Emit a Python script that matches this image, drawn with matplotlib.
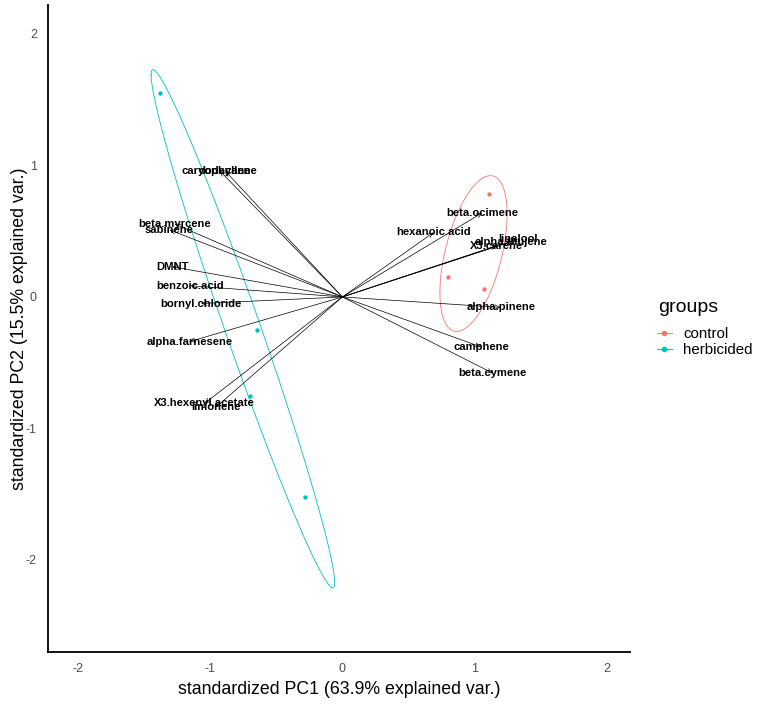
import numpy as np
import matplotlib
matplotlib.use("Agg")
import matplotlib.pyplot as plt
from matplotlib.lines import Line2D

plt.rcParams["font.family"] = ["Liberation Sans", "DejaVu Sans"]
plt.rcParams["axes.unicode_minus"] = False

# --- datos ---
grupos = ["control", "herbicided"]
colores = {"control": "#F8766D", "herbicided": "#00BFC4"}

pc1_control = [1.11, 0.80, 1.07]
pc2_control = [0.78, 0.15, 0.06]
pc1_herb = [-1.385, -0.65, -0.70, -0.28]
pc2_herb = [1.553, -0.25, -0.75, -1.52]

variables = ["beta.ocimene", "hexanoic.acid", "linalool", "alpha.thujene",
             "X3.carene", "alpha.pinene", "camphene", "beta.cymene",
             "caryophyllene", "dodecane", "beta.myrcene", "sabinene", "DMNT",
             "benzoic.acid", "bornyl.chloride", "alpha.farnesene",
             "X3.hexenyl.acetate", "limonene"]
carga_pc1 = [1.06, 0.69, 1.33, 1.28, 1.17, 1.20, 1.05, 1.14,
             -0.93, -0.89, -1.27, -1.31, -1.29, -1.15, -1.07, -1.16,
             -1.045, -0.96]
carga_pc2 = [0.64, 0.49, 0.44, 0.42, 0.39, -0.08, -0.38, -0.58,
             0.96, 0.96, 0.555, 0.51, 0.23, 0.085, -0.05, -0.34,
             -0.81, -0.84]

puntos = {"control": (pc1_control, pc2_control),
          "herbicided": (pc1_herb, pc2_herb)}


def elipse(x, y, prob=0.68):
    # como ggbiplot: circulo %*% chol(sigma) * sqrt(qchisq(prob, 2))
    theta = np.linspace(-np.pi, np.pi, 100)
    circ = np.column_stack([np.cos(theta), np.sin(theta)])
    sigma = np.cov(np.vstack([x, y]))
    R = np.linalg.cholesky(sigma).T
    ed = np.sqrt(-2 * np.log(1 - prob))
    e = circ @ R * ed
    return e[:, 0] + np.mean(x), e[:, 1] + np.mean(y)


fig = plt.figure(figsize=(7.62, 7.08), dpi=100)
ax = fig.add_axes([0.063, 0.079, 0.764, 0.914])

# flechas
for nombre, vx, vy in zip(variables, carga_pc1, carga_pc2):
    ax.annotate("", xy=(vx, vy), xytext=(0, 0),
                arrowprops=dict(arrowstyle="->,head_length=0.35,head_width=0.15",
                                color="black", lw=0.5, shrinkA=0, shrinkB=0))

# puntos
for g in grupos:
    x, y = puntos[g]
    ax.scatter(x, y, s=10, color=colores[g], zorder=3, linewidths=0)

# etiquetas
for nombre, vx, vy in zip(variables, carga_pc1, carga_pc2):
    ax.text(vx, vy, nombre, ha="center", va="center", fontsize=8.1,
            fontweight="bold", color="black", zorder=4)

# elipses
for g in grupos:
    x, y = puntos[g]
    ex, ey = elipse(np.array(x), np.array(y))
    ax.plot(ex, ey, color=colores[g], lw=0.6, zorder=2)

ax.set_xlim(-2.23, 2.18)
ax.set_ylim(-2.70, 2.22)
ax.set_xticks([-2, -1, 0, 1, 2])
ax.set_yticks([-2, -1, 0, 1, 2])
ax.tick_params(length=0, labelsize=9, labelcolor="#4D4D4D")
ax.tick_params(axis="x", pad=8)
ax.tick_params(axis="y", pad=8)
for s in ["top", "right"]:
    ax.spines[s].set_visible(False)
for s in ["left", "bottom"]:
    ax.spines[s].set_linewidth(1.3)
ax.set_xlabel("standardized PC1 (63.9% explained var.)", fontsize=12.8, labelpad=4)
ax.set_ylabel("standardized PC2 (15.5% explained var.)", fontsize=12.8)
ax.yaxis.set_label_coords(-0.034, 0.5)

# leyenda
fig.text(658 / 762, 1 - 308 / 708, "groups", fontsize=14, va="center", ha="left")
handles = [Line2D([0], [0], color=colores[g], lw=0.7, marker="o", markersize=3)
           for g in grupos]
leg = fig.legend(handles, grupos, loc="upper left",
                 bbox_to_anchor=(0.862, 0.538), frameon=False, fontsize=10.8,
                 handlelength=1.0, labelspacing=0.15,
                 handletextpad=0.75, borderaxespad=0, borderpad=0)

fig.savefig("out.png", dpi=100)
